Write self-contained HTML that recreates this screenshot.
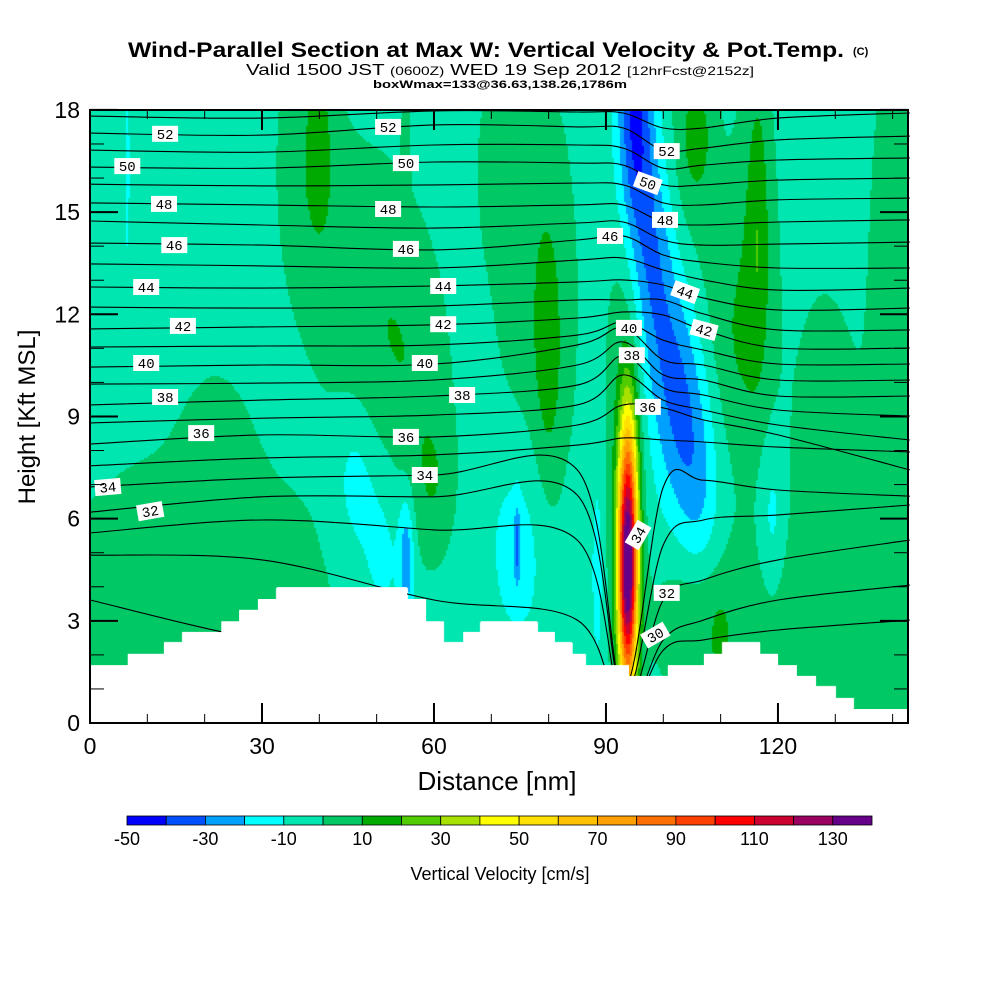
<!DOCTYPE html>
<html><head><meta charset="utf-8">
<style>
html,body{margin:0;padding:0;background:#fff;}
#wrap{position:relative;width:1000px;height:1000px;overflow:hidden;background:#fff;}
#field{position:absolute;left:90px;top:110px;}
#ov{position:absolute;left:0;top:0;}
text{font-family:"Liberation Sans",Arial,sans-serif;}
</style></head>
<body>
<div id="wrap">
<canvas id="field" width="818" height="613"></canvas>
<svg id="ov" width="1000" height="1000" xmlns="http://www.w3.org/2000/svg">
  <g>
    <text x="128" y="57" font-size="21" font-weight="bold" textLength="716" lengthAdjust="spacingAndGlyphs">Wind-Parallel Section at Max W: Vertical Velocity &amp; Pot.Temp.</text>
    <text x="853" y="55" font-size="11" font-weight="bold">(C)</text>
    <text x="246" y="75" font-size="16" textLength="508" lengthAdjust="spacingAndGlyphs">Valid 1500 JST <tspan font-size="12">(0600Z)</tspan> WED 19 Sep 2012 <tspan font-size="12">[12hrFcst@2152z]</tspan></text>
    <text x="373" y="88" font-size="11" font-weight="bold" textLength="254" lengthAdjust="spacingAndGlyphs">boxWmax=133@36.63,138.26,1786m</text>
  </g>
  <g id="iso"></g>
  <polygon id="terrain" fill="#fff" stroke="none"></polygon>
  <g id="isolab"></g>
  <rect x="90" y="110" width="818" height="613" fill="none" stroke="#000" stroke-width="2"></rect>
  <g id="ticks"></g>
  <g id="xlabels"></g>
  <g id="ylabels"></g>
  <text x="497" y="790" font-size="26" text-anchor="middle">Distance [nm]</text>
  <text x="0" y="0" font-size="24" text-anchor="middle" transform="translate(35,417) rotate(-90)">Height [Kft MSL]</text>
  <g id="cbar"></g>
  <text x="500" y="880" font-size="18" text-anchor="middle">Vertical Velocity [cm/s]</text>
</svg>
</div>
<script>
// ---- data ----
const colorBins = ["#0000ff","#0050ff","#00a0ff","#00ffff","#00e6b0","#00c864","#00aa00","#50cc00","#a8e000","#ffff00","#ffe000","#ffc000","#ffa000","#ff7000","#ff4000","#ff0000","#cc0030","#990060","#660088"];
const cbarTicks = [-50,-30,-10,10,30,50,70,90,110,130];
const xTicks = [0,30,60,90,120];
const yTicks = [0,3,6,9,12,15,18];
const baseW = -5;
// vertical-velocity features (nm, kft, nm, kft, cm/s)
const featX   = [18,22,38,48,56,60,40,55,72,78,80,46,51,55.2,75,74.5,95,98,101.5,104.5,106.5,93.8,94,93.5,104,106,116.5,116,141,128,106,110,119,112,128,6.5,88.5];
const featZ   = [3,7.5,16.5,13,10,7,17,17,16.5,12.5,10.5,7.2,5.2,4.8,5.4,5.2,17.8,14,11,8.5,6,4.6,8.3,9,15.5,17.3,15,14,13,2,3.2,2.3,6,11,9,16.3,4.5];
const featSX  = [20,4,4,6,5,2.5,1.3,0.5,3,5.5,1.8,2.5,3,0.9,4,0.4,2.2,2.6,3.2,3.2,2.5,1.2,1.1,2.3,4,2,1.3,3,4,16,5,0.8,1.5,4,4,0.25,0.7];
const featSZ  = [4,2,3,3,3,1.5,1.5,1.5,2,5,3,1.5,2,1.3,2.3,0.8,2.6,2.5,2.5,2.2,1.8,2.6,1.5,5,3.5,1.2,3,4,6,3,1.5,0.6,1.6,2.5,3,1.8,2];
const featAmp = [11,7,12,11,11,10,12,10,10,11,12,-11,-11,-23,-12,-22,-38,-22,-21,-19,-10,145,10,14,11,12,12,11,11,12,11,12,-12,11,10,-12,-12];
// terrain steps: start distance (nm) and height (kft)
const terrX = [0,6.6,12.9,16.2,22.9,26.0,29.3,32.6,55.3,58.6,61.7,65.1,68.2,78.0,81.1,84.2,86.4,94.0,100.8,107.1,110.4,116.9,120.0,123.3,126.6,130.0,133.1];
const terrH = [1.70,2.03,2.35,2.67,2.99,3.32,3.64,3.99,3.64,2.99,2.35,2.67,2.99,2.67,2.35,2.03,1.70,1.38,1.70,2.03,2.35,2.03,1.70,1.38,1.06,0.73,0.41];
// potential temperature isolines: heights (kft) at stations
const isoStations = [0,30,60,85,93,100,107,120,143];
const thetaLevels = [53,52,51,50,49,48,47,46,45,44,43,42,41,40,39,38,37,36,35,34,33,32,31,30];
const isoHeights = [
[17.82,17.76,17.97,17.94,17.91,17.47,17.47,17.76,17.91],
[17.32,17.26,17.56,17.50,17.47,16.82,16.88,17.12,17.23],
[16.82,16.76,16.97,16.97,16.88,16.29,16.38,16.53,16.59],
[16.32,16.29,16.47,16.44,16.38,15.80,15.80,15.94,16.00],
[15.82,15.77,15.80,15.85,15.80,15.27,15.21,15.36,15.41],
[15.27,15.21,15.15,15.21,15.21,14.71,14.62,14.71,14.77],
[14.74,14.62,14.53,14.68,14.71,14.18,14.03,14.06,14.12],
[14.09,14.03,13.89,14.18,14.30,13.74,13.53,13.36,13.36],
[13.48,13.42,13.36,13.59,13.65,13.30,13.01,12.71,12.77],
[12.80,12.77,12.83,12.95,13.01,12.86,12.48,12.13,12.18],
[12.21,12.18,12.24,12.42,12.42,12.42,12.01,11.54,11.54],
[11.57,11.63,11.69,11.89,12.07,11.98,11.54,11.01,11.01],
[11.04,11.07,11.10,11.39,11.77,11.24,10.95,10.54,10.54],
[10.45,10.51,10.54,11.10,11.60,10.66,10.51,10.07,10.07],
[9.95,9.98,10.07,10.51,11.19,10.22,10.07,9.60,9.60],
[9.34,9.48,9.60,9.92,10.78,9.84,9.63,9.19,9.01],
[8.81,8.95,9.04,9.34,10.22,9.48,9.19,8.75,8.31],
[8.19,8.46,8.40,8.75,9.34,9.25,8.90,8.46,7.43],
[7.55,7.78,7.87,8.16,8.37,8.31,8.25,8.10,7.96],
[6.93,7.19,7.28,7.43,1.00,6.93,7.13,6.84,6.66],
[6.19,6.64,6.64,6.69,0.80,5.23,5.96,6.11,6.40],
[5.58,5.96,5.67,5.37,0.50,3.61,4.20,4.79,5.37],
[4.93,4.79,3.61,3.02,0.20,2.44,3.02,3.61,4.05],
[3.61,2.44,1.85,1.26,0.00,2.14,2.44,2.73,3.02]
];
const labelText = ["52","50","48","46","44","42","40","38","36","34","32","52","50","48","46","44","42","40","38","36","34","46","40","38","36","34","32","30","52","50","48","44","42"];
const labelX = [13.1,6.5,12.9,14.7,9.8,16.2,9.8,13.1,19.4,3.1,10.5,52.0,55.1,52.0,55.1,61.6,61.6,58.4,64.9,55.1,58.4,90.7,94.0,94.5,97.3,95.6,100.6,98.6,100.6,97.3,100.3,103.8,107.1];
const labelZ = [17.3,16.35,15.24,14.03,12.8,11.66,10.57,9.57,8.51,6.93,6.22,17.5,16.44,15.09,13.92,12.83,11.71,10.57,9.63,8.40,7.28,14.30,11.6,10.8,9.28,5.52,3.82,2.58,16.79,15.85,14.77,12.65,11.54];
const labelRot = [0,0,0,0,0,0,0,0,0,-5,-10,0,0,0,0,0,0,0,0,0,0,0,0,0,0,-60,0,-30,0,20,0,20,15];

// ---- scales ----
const PX0=90, PY0=723, XPX=5.733, YPX=34.06, XMAX=142.7;
function X(nm){return PX0+nm*XPX;}
function Y(k){return PY0-k*YPX;}
const NS="http://www.w3.org/2000/svg";
function terrainAt(nm){let h=terrH[0];for(let i=0;i<terrX.length;i++){if(nm>=terrX[i])h=terrH[i];}return h;}
function wAt(nm,k){let v=baseW;for(let i=0;i<featX.length;i++){const dx=(nm-featX[i])/featSX[i],dz=(k-featZ[i])/featSZ[i];v+=featAmp[i]*Math.exp(-0.5*(dx*dx+dz*dz));}return v;}
function binColor(v){let i=Math.floor((v+50)/10);if(i<0)i=0;if(i>18)i=18;return colorBins[i];}

// ---- field ----
const cv=document.getElementById('field');const ctx=cv.getContext('2d');
ctx.fillStyle="#fff";ctx.fillRect(0,0,818,613);
for(let py=0;py<613;py+=2){for(let px=0;px<818;px+=2){
  const nm=(px+1)/XPX, k=(613-py-1)/YPX;
  if(k<terrainAt(nm))continue;
  ctx.fillStyle=binColor(wAt(nm,k));ctx.fillRect(px,py,2,2);}}

// ---- isolines ----
const isoG=document.getElementById('iso');
for(let li=0;li<thetaLevels.length;li++){
  const pts=isoStations.map((s,j)=>[X(s),Y(isoHeights[li][j])]);
  let d="M"+pts[0][0].toFixed(1)+","+pts[0][1].toFixed(1);
  for(let i=0;i<pts.length-1;i++){
    const p0=pts[i-1]||pts[i],p1=pts[i],p2=pts[i+1],p3=pts[i+2]||p2;
    const c1=[p1[0]+(p2[0]-p0[0])/6,p1[1]+(p2[1]-p0[1])/6],c2=[p2[0]-(p3[0]-p1[0])/6,p2[1]-(p3[1]-p1[1])/6];
    d+=" C"+c1[0].toFixed(1)+","+c1[1].toFixed(1)+" "+c2[0].toFixed(1)+","+c2[1].toFixed(1)+" "+p2[0].toFixed(1)+","+p2[1].toFixed(1);
  }
  const p=document.createElementNS(NS,'path');
  p.setAttribute('d',d);p.setAttribute('fill','none');p.setAttribute('stroke','#000');p.setAttribute('stroke-width','1.1');
  
  
  isoG.appendChild(p);
}
// ---- terrain ----
let tp=[];
for(let i=0;i<terrX.length;i++){const xe=(i+1<terrX.length)?terrX[i+1]:XMAX;tp.push([X(terrX[i]),Y(terrH[i])]);tp.push([X(xe),Y(terrH[i])]);}
tp.push([X(XMAX),PY0]);tp.push([X(0),PY0]);
document.getElementById('terrain').setAttribute('points',tp.map(p=>p[0].toFixed(1)+","+p[1].toFixed(1)).join(" "));
// ---- contour labels ----
const lg=document.getElementById('isolab');
for(let i=0;i<labelText.length;i++){
  const g=document.createElementNS(NS,'g');
  g.setAttribute('transform','translate('+X(labelX[i]).toFixed(1)+','+Y(labelZ[i]).toFixed(1)+') rotate('+labelRot[i]+')');
  
  
  const r=document.createElementNS(NS,'rect');
  r.setAttribute('x','-13');r.setAttribute('y','-8');r.setAttribute('width','26');r.setAttribute('height','16');r.setAttribute('fill','#fff');
  g.appendChild(r);
  const t=document.createElementNS(NS,'text');
  t.setAttribute('x','0');t.setAttribute('y','5');t.setAttribute('text-anchor','middle');t.setAttribute('font-size','14');
  t.setAttribute('style','font-family:"Liberation Mono",monospace');
  t.textContent=labelText[i];g.appendChild(t);
  lg.appendChild(g);
}
// ---- ticks ----
const tg=document.getElementById('ticks');
function line(x1,y1,x2,y2,w,name){const l=document.createElementNS(NS,'line');l.setAttribute('x1',x1);l.setAttribute('y1',y1);l.setAttribute('x2',x2);l.setAttribute('y2',y2);l.setAttribute('stroke','#000');l.setAttribute('stroke-width',w);
  
  
  tg.appendChild(l);}
for(let v=0;v<=140;v+=10){const big=v%30===0;const L=big?20:9;const x=X(v);
  line(x,PY0,x,PY0-L,big?2:1,'x-tick');line(x,110,x,110+L,big?2:1,'x-tick-top');}
for(let v=0;v<=18;v+=1){const big=v%3===0;const L=big?28:14;const y=Y(v);
  line(90,y,90+L,y,big?2:1,'y-tick');line(908,y,908-L,y,big?2:1,'y-tick-right');}
const xl=document.getElementById('xlabels');
xTicks.forEach(v=>{const t=document.createElementNS(NS,'text');t.setAttribute('x',X(v));t.setAttribute('y',754);t.setAttribute('font-size','23');t.setAttribute('text-anchor','middle');t.textContent=v;
  
  
  xl.appendChild(t);});
const yl=document.getElementById('ylabels');
yTicks.forEach(v=>{const t=document.createElementNS(NS,'text');t.setAttribute('x',80);t.setAttribute('y',Y(v)+8);t.setAttribute('font-size','23');t.setAttribute('text-anchor','end');t.textContent=v;
  
  
  yl.appendChild(t);});
// ---- colorbar ----
const cb=document.getElementById('cbar');const CB0=127,CBW=(872-127)/19;
colorBins.forEach((c,i)=>{const r=document.createElementNS(NS,'rect');r.setAttribute('x',(CB0+i*CBW).toFixed(1));r.setAttribute('y',816);r.setAttribute('width',CBW.toFixed(1));r.setAttribute('height',9);r.setAttribute('fill',c);r.setAttribute('stroke','#000');r.setAttribute('stroke-width','0.8');
  
  
  cb.appendChild(r);});
cbarTicks.forEach(v=>{const i=(v+50)/10;const t=document.createElementNS(NS,'text');t.setAttribute('x',(CB0+i*CBW).toFixed(1));t.setAttribute('y',845);t.setAttribute('font-size','18');t.setAttribute('text-anchor','middle');t.textContent=v;
  
  
  cb.appendChild(t);});
</script>
</body></html>
